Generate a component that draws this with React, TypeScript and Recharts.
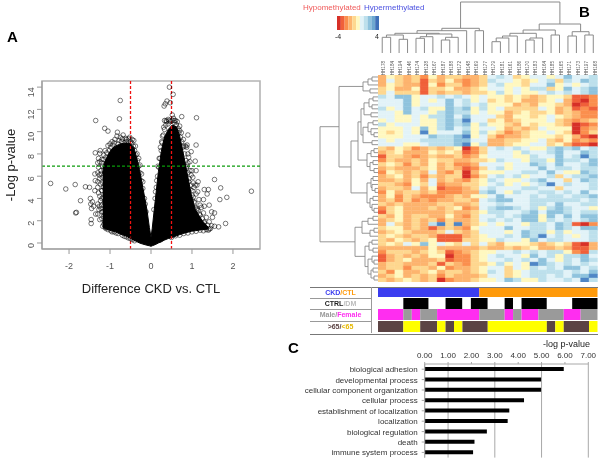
import {
  Area,
  Bar,
  BarChart,
  CartesianGrid,
  Cell,
  ComposedChart,
  Label,
  ReferenceArea,
  ReferenceLine,
  Scatter,
  ScatterChart,
  XAxis,
  YAxis,
} from "recharts";

const FONT = '"Liberation Sans", Arial, sans-serif';

// panel A: solid part of the volcano
const coreX = [-1.18, -1.14, -1.05, -0.97, -0.87, -0.75, -0.6, -0.5, -0.42, -0.36, -0.28, -0.2, -0.1, -0.04, 0, 0.03, 0.1, 0.18, 0.25, 0.32, 0.42, 0.52, 0.63, 0.7, 0.78, 0.88, 0.98, 1.08, 1.25, 1.4];
const coreLow = [1.5, 1.3, 1.2, 1.1, 1.0, 0.8, 0.6, 0.4, 0.25, 0.15, 0, -0.1, -0.2, -0.25, -0.3, -0.25, -0.15, 0, 0.1, 0.25, 0.4, 0.5, 0.65, 0.75, 0.85, 0.95, 1.05, 1.1, 1.2, 1.25];
const coreHigh = [6.2, 7.2, 7.9, 8.4, 8.7, 8.9, 9.0, 8.9, 8.6, 7.8, 6.6, 5, 3, 1.4, 0.5, 1.3, 3.7, 6.4, 8.2, 9.4, 10.2, 10.6, 10.4, 9.6, 8.2, 6.3, 4.4, 3.0, 2.0, 1.4];

const leftOutliers = [[-2.45, 5.35], [-2.08, 4.85], [-1.85, 5.25], [-1.72, 3.8], [-1.84, 2.7], [-1.82, 2.75], [-1.6, 5.05], [-1.5, 5], [-1.48, 4], [-1.47, 3.5], [-1.45, 3.1], [-1.43, 3.7], [-1.46, 2.1], [-1.46, 1.75], [-1.35, 11], [-1.13, 10.3], [-1.05, 10.05], [-0.83, 9.6], [-0.75, 12.8], [-0.77, 11.15], [-0.82, 9.95], [-0.68, 9.7], [-0.6, 9.3], [-0.42, 9.2], [-1.36, 8.1], [-1.25, 8.05], [-1.24, 8.3], [-1.3, 7.2], [-1.37, 6.2], [-1.3, 6.3], [-1.36, 5.6], [-1.3, 5.5], [-1.37, 4.7], [-1.3, 5], [-1.35, 2.6], [-1.3, 2.6], [-1.25, 2.1], [-1.4, 3.3], [-1.3, 3.5], [-1.27, 3], [-1.2, 4], [-1.2, 4.7], [-1.25, 5.8], [-1.22, 6.5]];
const leftEdge = [[-1.2, 7.5], [-1.18, 6.9], [-1.22, 6.2], [-1.18, 5.4], [-1.2, 4.7], [-1.17, 4.1], [-1.2, 3.4], [-1.17, 2.8], [-1.2, 2.2], [-1.15, 1.7], [-1.12, 1.4], [-1.1, 7.7], [-1.08, 8.1], [-1.02, 8.3], [-1.05, 8.75], [-0.98, 8.6], [-0.93, 8.8], [-0.9, 9.0], [-0.86, 8.5], [-0.8, 8.9], [-0.78, 9.2], [-0.72, 9.1], [-0.65, 9.0], [-0.6, 9.1], [-0.55, 9.35], [-0.5, 9.1], [-0.47, 9.0], [-0.43, 8.7], [-0.4, 8.3], [-0.37, 7.9], [-0.33, 7.4], [-0.3, 6.9], [-0.27, 6.3], [-0.24, 5.6], [-0.2, 4.9], [-0.16, 4], [-1.05, 1.2], [-0.98, 1.1], [-0.9, 1], [-0.8, 0.85], [-0.7, 0.7], [-0.6, 0.55], [-0.5, 0.4], [-0.4, 0.2], [-1.28, 7.6], [-1.15, 7.9], [-1.1, 6.3], [-1.25, 4.2], [-1.22, 3.1], [-1.08, 2.3]];
const leftFringe = [[-1.28, 6.8], [-1.26, 6.1], [-1.24, 5.3], [-1.28, 4.5], [-1.23, 3.8], [-1.26, 3.3], [-1.2, 2.8], [-1.16, 2.4], [-1.13, 1.9], [-1.18, 1.5], [-1.1, 1.3], [-1.2, 7.2], [-1.25, 7.3], [-1.15, 7.5], [-1.12, 8.3], [-1.0, 8.9], [-0.95, 9.1], [-0.88, 9.3], [-0.75, 9.5], [-0.7, 9.35], [-0.62, 9.4], [-0.52, 9.5], [-0.46, 9.3], [-0.38, 8.7], [-0.34, 8], [-0.3, 7.6], [-0.27, 7], [-0.23, 6.2], [-0.2, 5.5], [-0.14, 3.5], [-0.12, 2.8], [-1.14, 3.6], [-1.16, 5], [-1.19, 5.9], [-1.15, 6.6], [-0.95, 1.0], [-0.85, 0.9], [-0.65, 0.6], [-0.55, 0.45], [-0.45, 0.3]];
const rightOutliers = [[0.45, 14], [0.54, 13.35], [0.47, 12.6], [0.39, 12.75], [0.35, 12.5], [0.32, 12.3], [0.75, 11.35], [1.11, 11.25], [0.52, 11.5], [0.55, 11.2], [0.6, 11], [0.42, 11.1], [0.33, 11], [0.37, 11], [0.9, 9.7], [1.1, 8.8], [0.88, 8.8], [0.87, 8.6], [0.98, 8.2], [1.08, 7.35], [1.1, 6.5], [0.95, 6.5], [0.9, 7.2], [1.15, 5.5], [1.12, 5.2], [1.3, 4.8], [1.4, 4.8], [1.55, 5.7], [1.7, 4.95], [1.85, 4.1], [1.68, 3.9], [1.37, 4.4], [1.42, 3.4], [1.3, 3.3], [1.28, 3.9], [1.48, 2.8], [1.55, 2.7], [1.5, 2.3], [1.55, 1.5], [1.65, 1.45], [1.82, 1.75], [2.45, 4.65], [1.42, 1.25], [1.3, 1.8], [1.2, 2.5], [1.12, 3], [1.05, 3.7], [1, 4.3], [1.05, 5]];
const rightEdge = [[0.3, 9.7], [0.27, 9], [0.25, 8.3], [0.22, 7.6], [0.19, 6.8], [0.16, 6], [0.13, 5], [0.1, 4], [0.07, 3], [0.33, 10.2], [0.36, 10.6], [0.42, 10.7], [0.47, 10.9], [0.52, 11], [0.58, 10.8], [0.62, 10.6], [0.66, 10.3], [0.68, 9.9], [0.72, 9.5], [0.75, 9.1], [0.78, 8.6], [0.82, 8], [0.85, 7.4], [0.88, 6.9], [0.9, 6.3], [0.93, 5.8], [0.97, 5.2], [1, 4.7], [1.03, 4.1], [1.07, 3.6], [1.12, 3.1], [1.18, 2.6], [1.25, 2.2], [1.3, 1.9], [1.38, 1.6], [1.45, 1.3], [1.35, 1.2], [1.2, 1.15], [1, 1], [0.8, 0.85], [0.6, 0.65], [0.92, 7.7], [0.8, 8.7], [0.7, 10.1], [0.98, 6.1], [1.03, 5.4], [1.1, 4.4], [1.2, 3.4]];
const rightFringe = [[0.31, 10.4], [0.28, 9.6], [0.26, 9.1], [0.23, 8.6], [0.2, 7.6], [0.17, 6.9], [0.14, 5.6], [0.11, 4.6], [0.38, 10.9], [0.45, 11], [0.57, 11], [0.64, 10.9], [0.7, 10.5], [0.74, 9.9], [0.79, 9.3], [0.84, 8.7], [0.9, 8], [0.95, 7.3], [1.0, 6.5], [1.02, 5.9], [1.08, 5.2], [1.14, 4.6], [1.17, 3.9], [1.23, 3.2], [1.28, 2.7], [1.35, 2.3], [1.42, 1.9], [1.48, 1.55], [1.4, 1.15], [1.28, 1.1], [1.1, 1.05], [0.9, 0.9], [0.7, 0.7], [0.5, 0.5], [1.15, 2.9], [1.08, 3.2], [1.0, 3.9], [0.95, 4.8], [0.92, 5.5], [0.86, 6.7]];

const xTicksA = [-2, -1, 0, 1, 2];
const yTicksA = [0, 2, 4, 6, 8, 10, 12, 14];

// panel B: heat map, one digit per cell (0 = most hypomethylated)
const heatColors = ["#d73027", "#f0603a", "#fb8f4e", "#fdb46e", "#fed78f", "#fff8c0", "#e2f3f8", "#bde0ec", "#8fc3dd", "#4f86c6"];
const keyColors = ["#d73027", "#f0603a", "#fb8f4e", "#fdb46e", "#fed78f", "#fff8c0", "#e2f3f8", "#bde0ec", "#8fc3dd", "#6ea8d0", "#3f70b8"];
const heatRows = [
  "35434253443346764566568667",
  "36434143532347665456747687",
  "35433152442346755466856567",
  "45335144533456656577458678",
  "46444143443445756556767678",
  "76885667676565545434554112",
  "66685656867564545334563102",
  "66685666867675553435543012",
  "75686755878575644446534121",
  "66586657877565534544534322",
  "66556577868666435545654322",
  "56556557879664534555643234",
  "75666557878575543545543012",
  "55565857867566534346555023",
  "54565956668575423455654024",
  "55566687789564233455545310",
  "65666777788663344556435232",
  "66655677789573345566453110",
  "43542343450246767655787867",
  "34533354541246665766786687",
  "14432343342356665576686797",
  "24334354433445766577587768",
  "45424353422366656687686678",
  "34333453431246756668677677",
  "25434363240355566776865587",
  "34534243440246767566746778",
  "33435363432457655678664687",
  "44325462334456756567967667",
  "34436351223467666776646667",
  "25344342223378657667767686",
  "35243222343556866676776778",
  "34242323344367886677777767",
  "43433334433466766677686677",
  "24533343452367887675787665",
  "14533333433457766786887677",
  "43534433532466767885868688",
  "34534342433467676885767678",
  "36434379493456566577687102",
  "45534313432566686677687688",
  "34543334643466656877575667",
  "45434431113456676879676567",
  "43543451114455766586776667",
  "45465856546464355543454103",
  "33333353333343343453343113",
  "24443454123455667676775217",
  "13434355022456766586757786",
  "13453334122456676768657687",
  "34433341432445756598767676",
  "34424435233456646576768867",
  "42533453443457645677776768",
  "34534342433346645677676889",
  "43454340233455687557667697",
];
const colLabels = ["HH178", "HH184", "HH194", "HH146", "HH174", "HH128", "HH167", "HH187", "HH188", "HH172", "HH148", "HH169", "HH177", "HH179", "HH181", "HH161", "HH186", "HH170", "HH183", "HH164", "HH185", "HH165", "HH171", "HH173", "HH197", "HH168"];

// dendrograms: a leaf is a number, a node is [height, left, right]
type Tree = number | [number, Tree, Tree];
const colTreeLeft: Tree = [24.7, [22.3, [19.7, [18, [15.7, 0, 1], [13.7, 2, 3]], [19, [16.3, [14.7, 4, 5], 6], [15.7, [13, 7, 8], 9]]], 10], [22.3, 11, 12]];
const colTreeRight: Tree = [29, [23, [19.7, [17, [15, [11.3, 13, 14], 15], 16], [15, [13, 17, 18], 19]], [18, 20, 21]], [21.3, [17, 22, 23], [18, 24, 25]]];
const colTree: Tree = [51, colTreeLeft, colTreeRight];
const rowTreeUpper: Tree = [39,
  [15, [10, [6, 0, 1], 2], [8, 3, 4]],
  [27,
    [20,
      [17, [14, [9, [5, 5, 6], [6, 7, 8]], [7, 9, 10]], [15, [10, [5, 11, 12], [7, 13, [4, 14, 15]]], [6, 16, 17]]],
      [11, [7, [4, 18, 19], 20], [8, [5, 21, 22], [4, 23, 24]]]],
    [11, [7, [5, 25, 26], [6, 27, [3, 28, 29]]], [8, [5, 30, 31], [6, 32, [4, 33, 34]]]]]];
const rowTreeLower: Tree = [23,
  [16, [10, [5, 35, 36], 37], [8, [4, 38, 39], 40]],
  [13, [9, [6, 41, 42], [5, 43, 44]], [10, [6, 45, [4, 46, 47]], [7, [5, 48, 49], [4, 50, 51]]]]];
const rowTree: Tree = [58, rowTreeUpper, rowTreeLower];

// annotation tracks, spans counted in heat map columns
const trackGroupSpans = [12, 14];
const trackGroupColors = ["#3b3df0", "#ff9a0a"];
const trackDiseaseSpans = [3, 3, 2, 2, 1, 2, 2, 1, 1, 3, 3, 3];
const trackDiseaseColors = ["#ffffff", "#000000", "#ffffff", "#000000", "#ffffff", "#000000", "#ffffff", "#000000", "#ffffff", "#000000", "#ffffff", "#000000"];
const trackSexSpans = [3, 1, 1, 2, 5, 3, 1, 1, 2, 3, 2, 2];
const trackSexColors = ["#ff2df0", "#9a9a9a", "#ff2df0", "#9a9a9a", "#ff2df0", "#9a9a9a", "#ff2df0", "#9a9a9a", "#ff2df0", "#9a9a9a", "#ff2df0", "#9a9a9a"];
const trackAgeSpans = [3, 2, 2, 1, 1, 1, 3, 7, 1, 1, 3, 1];
const trackAgeColors = ["#5c4444", "#ffff00", "#5c4444", "#ffff00", "#5c4444", "#ffff00", "#5c4444", "#ffff00", "#5c4444", "#ffff00", "#5c4444", "#ffff00"];

// panel C
const goTerms = ["biological adhesion", "developmental process", "cellular component organization", "cellular process", "establishment of localization", "localization", "biological regulation", "death", "immune system process"];
const goValues = [5.95, 4.98, 4.98, 4.25, 3.62, 3.55, 2.66, 2.13, 2.07];
const goTicks = [0, 1, 2, 3, 4, 5, 6, 7];

const toPoints = (pairs: number[][]) => pairs.map(([x, y]) => ({ x, y }));
const coreData = coreX.map((x, i) => ({ x, range: [coreLow[i], coreHigh[i]] }));
const OpenCircle = (p: any) => (
  <circle cx={p.cx} cy={p.cy} r={2.3} fill="none" stroke="#000" strokeOpacity={0.62} strokeWidth={0.85} />
);
const NoDot = () => <g />;

// one line per term, the axis would otherwise wrap long names
const GoTick = (p: any) => (
  <text x={p.x} y={p.y} dy={3} textAnchor="end" fontSize={8} fill="#333" fontFamily={FONT}>
    {p.payload.value}
  </text>
);

// walks a tree and returns one U shaped polyline per node
function treeLinks(node: Tree, out: { pos: number; h: number }[][]): { pos: number; h: number } {
  if (typeof node === "number") return { pos: node + 0.5, h: 0 };
  const [h, l, r] = node;
  const a = treeLinks(l, out);
  const b = treeLinks(r, out);
  out.push([a, { pos: a.pos, h }, { pos: b.pos, h }, b]);
  return { pos: (a.pos + b.pos) / 2, h };
}

function Volcano() {
  return (
    <ComposedChart width={270} height={300} data={coreData} margin={{ top: 81, right: 10, bottom: 0, left: 0 }}>
      <ReferenceArea x1={-2.66} x2={2.66} y1={-0.54} y2={14.55} fill="none" stroke="#b4b4b4" strokeWidth={1.6} />
      <XAxis
        dataKey="x"
        type="number"
        domain={[-2.66, 2.66]}
        ticks={xTicksA}
        height={51}
        tickSize={5}
        stroke="#999"
        tick={{ fontSize: 9, fill: "#555", fontFamily: FONT }}
        tickMargin={9}
        allowDataOverflow
      >
        <Label value="Difference CKD vs. CTL" position="insideBottom" offset={7} style={{ fontSize: 13, fill: "#222", fontFamily: FONT }} />
      </XAxis>
      <YAxis
        type="number"
        domain={[-0.54, 14.55]}
        ticks={yTicksA}
        width={42}
        tickSize={5}
        tickMargin={6}
        angle={-90}
        stroke="#999"
        tick={{ fontSize: 9, fill: "#555", fontFamily: FONT }}
        allowDataOverflow
      >
        <Label value="-Log p-value" angle={-90} position="insideLeft" offset={10} style={{ fontSize: 13, fill: "#222", fontFamily: FONT, textAnchor: "middle" }} />
      </YAxis>
      <Area dataKey="range" type="linear" fill="#000" fillOpacity={1} stroke="#000" isAnimationActive={false} dot={false} activeDot={false} />
      <Scatter data={toPoints(leftEdge)} dataKey="y" shape={OpenCircle} isAnimationActive={false} />
      <Scatter data={toPoints(leftFringe)} dataKey="y" shape={OpenCircle} isAnimationActive={false} />
      <Scatter data={toPoints(leftOutliers)} dataKey="y" shape={OpenCircle} isAnimationActive={false} />
      <Scatter data={toPoints(rightEdge)} dataKey="y" shape={OpenCircle} isAnimationActive={false} />
      <Scatter data={toPoints(rightFringe)} dataKey="y" shape={OpenCircle} isAnimationActive={false} />
      <Scatter data={toPoints(rightOutliers)} dataKey="y" shape={OpenCircle} isAnimationActive={false} />
      <ReferenceLine x={-0.5} stroke="#f01010" strokeWidth={1.3} strokeDasharray="3 2" />
      <ReferenceLine x={0.5} stroke="#f01010" strokeWidth={1.3} strokeDasharray="3 2" />
      <ReferenceLine y={6.9} stroke="#0a9a0a" strokeWidth={1.3} strokeDasharray="3 2" />
    </ComposedChart>
  );
}

function ColDendrogram() {
  const links: { pos: number; h: number }[][] = [];
  treeLinks(colTree, links);
  return (
    <ScatterChart width={219.5} height={76} margin={{ top: 0, right: 0, bottom: 0, left: 0 }}>
      <XAxis
        dataKey="pos"
        type="number"
        domain={[0, 26]}
        ticks={colLabels.map((_, i) => i + 0.5)}
        interval={0}
        tickFormatter={(v: number) => colLabels[v - 0.5]}
        height={23}
        axisLine={false}
        tickLine={false}
        angle={-90}
        textAnchor="end"
        tickMargin={2}
        tick={{ fontSize: 4.6, fill: "#555", fontFamily: FONT }}
      />
      <YAxis dataKey="h" type="number" domain={[0, 53]} hide />
      {links.map((d, i) => (
        <Scatter key={i} data={d} line={{ stroke: "#8a8a8a", strokeWidth: 1 }} shape={NoDot} isAnimationActive={false} />
      ))}
    </ScatterChart>
  );
}

function RowDendrogram() {
  const links: { pos: number; h: number }[][] = [];
  treeLinks(rowTree, links);
  return (
    <ScatterChart width={60} height={207} margin={{ top: 0, right: 0, bottom: 0, left: 0 }}>
      <XAxis dataKey="h" type="number" domain={[60, 0]} hide allowDataOverflow />
      <YAxis dataKey="pos" type="number" domain={[0, heatRows.length]} reversed hide />
      {links.map((d, i) => (
        <Scatter key={i} data={d} line={{ stroke: "#8a8a8a", strokeWidth: 0.9 }} shape={NoDot} isAnimationActive={false} />
      ))}
    </ScatterChart>
  );
}

function HeatMap() {
  const data = heatRows.map((r, i) => {
    const row: Record<string, number> = { row: i };
    colLabels.forEach((c) => (row[c] = 1));
    return row;
  });
  return (
    <BarChart width={219.5} height={207} data={data} layout="vertical" barCategoryGap={0} margin={{ top: 0, right: 0, bottom: 0, left: 0 }}>
      <XAxis type="number" domain={[0, 26]} hide />
      <YAxis type="category" dataKey="row" hide />
      {colLabels.map((c, col) => (
        <Bar key={c} dataKey={c} stackId="h" isAnimationActive={false}>
          {heatRows.map((r, i) => {
            const fill = heatColors[Number(r[col])];
            return <Cell key={i} fill={fill} stroke={fill} strokeWidth={0.4} />;
          })}
        </Bar>
      ))}
    </BarChart>
  );
}

function StackedStrip({ spans, colors, width, height }: { spans: number[]; colors: string[]; width: number; height: number }) {
  const total = spans.reduce((a, b) => a + b, 0);
  const row: Record<string, number> = {};
  spans.forEach((s, i) => (row["s" + i] = s));
  return (
    <BarChart width={width} height={height} data={[row]} layout="vertical" barCategoryGap={0} margin={{ top: 0, right: 0, bottom: 0, left: 0 }}>
      <XAxis type="number" domain={[0, total]} hide />
      <YAxis type="category" hide />
      {spans.map((_, i) => (
        <Bar key={i} dataKey={"s" + i} stackId="t" fill={colors[i]} isAnimationActive={false} />
      ))}
    </BarChart>
  );
}

function GoBars() {
  const data = goTerms.map((term, i) => ({ term, value: goValues[i] }));
  return (
    <BarChart width={320} height={124} data={data} layout="vertical" margin={{ top: 17, right: 11.7, bottom: 1.4, left: 0 }}>
      <CartesianGrid horizontal={false} stroke="#a8a8a8" />
      <XAxis
        type="number"
        orientation="top"
        domain={[0, 7]}
        ticks={goTicks}
        height={12}
        tickFormatter={(v: number) => v.toFixed(2)}
        stroke="#a8a8a8"
        tickSize={2}
        tickMargin={4}
        tick={{ fontSize: 8, fill: "#333", fontFamily: FONT }}
      />
      <YAxis type="category" dataKey="term" width={144.7} interval={0} stroke="#a8a8a8" tickSize={3} tickMargin={4} tick={GoTick} />
      <Bar dataKey="value" fill="#000" barSize={4} isAnimationActive={false} />
    </BarChart>
  );
}

const place = (left: number, top: number): React.CSSProperties => ({ position: "absolute", left, top });
const rowLabel = (top: number, height: number): React.CSSProperties => ({
  position: "absolute",
  left: 310,
  top,
  width: 61,
  height,
  lineHeight: height + "px",
  textAlign: "center",
  fontSize: 7,
  fontWeight: "bold",
  fontFamily: FONT,
});

export default function App() {
  return (
    <div style={{ position: "absolute", left: 0, top: 0, width: 600, height: 459, overflow: "hidden", background: "#fff", fontFamily: FONT, filter: "blur(0.35px)" }}>
      <div style={place(0, 0)}>
        <Volcano />
      </div>
      <div style={{ ...place(7, 28), fontSize: 15, fontWeight: "bold" }}>A</div>
      <div style={{ ...place(579, 3), fontSize: 15, fontWeight: "bold" }}>B</div>
      <div style={{ ...place(288, 339), fontSize: 15, fontWeight: "bold" }}>C</div>

      <div style={{ ...place(303, 3), fontSize: 8, color: "#f05a5a", whiteSpace: "nowrap" }}>Hypomethylated</div>
      <div style={{ ...place(364, 3), fontSize: 8, color: "#4a50e0", whiteSpace: "nowrap" }}>Hypermethylated</div>
      <div style={place(337, 16)}>
        <StackedStrip spans={keyColors.map(() => 1)} colors={keyColors} width={42} height={14} />
      </div>
      <div style={{ ...place(335, 33), fontSize: 7, color: "#222" }}>-4</div>
      <div style={{ ...place(375, 33), fontSize: 7, color: "#222" }}>4</div>

      <div style={place(378, 0)}>
        <ColDendrogram />
      </div>
      <div style={place(318, 75)}>
        <RowDendrogram />
      </div>
      <div style={{ ...place(378, 75), filter: "blur(0.6px)" }}>
        <HeatMap />
      </div>

      <div style={{ ...place(310, 287), width: 288, height: 46, borderTop: "1px solid #777", borderBottom: "1px solid #777" }} />
      <div style={{ ...place(371, 287), width: 1, height: 46, background: "#999" }} />
      <div style={{ ...place(310, 298), width: 61, height: 1, background: "#999" }} />
      <div style={{ ...place(310, 309), width: 61, height: 1, background: "#999" }} />
      <div style={{ ...place(310, 321), width: 61, height: 1, background: "#999" }} />
      <div style={rowLabel(287, 11)}>
        <span style={{ color: "#3b3df0" }}>CKD</span>
        <span style={{ color: "#ff9a0a" }}>/CTL</span>
      </div>
      <div style={rowLabel(298, 11)}>
        <span style={{ color: "#222" }}>CTRL</span>
        <span style={{ color: "#bbb" }}>/DM</span>
      </div>
      <div style={rowLabel(309, 12)}>
        <span style={{ color: "#999" }}>Male/</span>
        <span style={{ color: "#ff2df0" }}>Female</span>
      </div>
      <div style={rowLabel(321, 12)}>
        <span style={{ color: "#5c4444" }}>&gt;65/</span>
        <span style={{ color: "#e6b800" }}>&lt;65</span>
      </div>
      <div style={place(378, 288)}>
        <StackedStrip spans={trackGroupSpans} colors={trackGroupColors} width={219.5} height={9} />
      </div>
      <div style={place(378, 298)}>
        <StackedStrip spans={trackDiseaseSpans} colors={trackDiseaseColors} width={219.5} height={11} />
      </div>
      <div style={place(378, 309)}>
        <StackedStrip spans={trackSexSpans} colors={trackSexColors} width={219.5} height={11} />
      </div>
      <div style={place(378, 321)}>
        <StackedStrip spans={trackAgeSpans} colors={trackAgeColors} width={219.5} height={11} />
      </div>

      <div style={place(280, 335)}>
        <GoBars />
      </div>
      <div style={{ ...place(543, 339), fontSize: 9, color: "#222", whiteSpace: "nowrap" }}>-log p-value</div>
    </div>
  );
}
